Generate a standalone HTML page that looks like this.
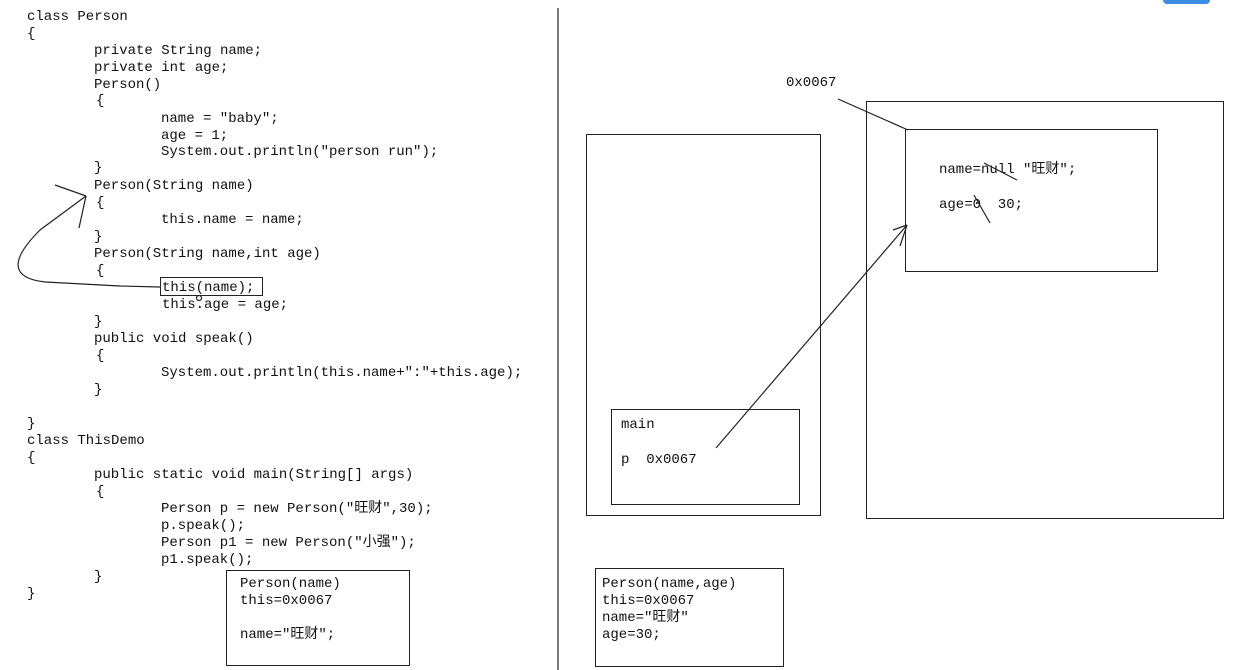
<!DOCTYPE html>
<html><head><meta charset="utf-8"><style>
body{margin:0;width:1249px;height:670px;background:#fff;position:relative;overflow:hidden;font-family:"Liberation Mono","Noto Sans CJK SC",monospace;font-size:14px;color:#111}
.t{position:absolute;white-space:pre;line-height:16px}
.b{position:absolute;border:1px solid #222;box-sizing:border-box}
svg{position:absolute;left:0;top:0}
</style></head><body>
<div class="t" style="left:27px;top:9px">class Person</div>
<div class="t" style="left:27px;top:26px">{</div>
<div class="t" style="left:94px;top:43px">private String name;</div>
<div class="t" style="left:94px;top:60px">private int age;</div>
<div class="t" style="left:94px;top:77px">Person()</div>
<div class="t" style="left:96px;top:93px">{</div>
<div class="t" style="left:161px;top:111px">name = "baby";</div>
<div class="t" style="left:161px;top:128px">age = 1;</div>
<div class="t" style="left:161px;top:144px">System.out.println("person run");</div>
<div class="t" style="left:94px;top:160px">}</div>
<div class="t" style="left:94px;top:178px">Person(String name)</div>
<div class="t" style="left:96px;top:195px">{</div>
<div class="t" style="left:161px;top:212px">this.name = name;</div>
<div class="t" style="left:94px;top:229px">}</div>
<div class="t" style="left:94px;top:246px">Person(String name,int age)</div>
<div class="t" style="left:96px;top:263px">{</div>
<div class="t" style="left:162px;top:280px">this(name);</div>
<div class="b" style="left:160px;top:277px;width:103px;height:19px"></div>
<div class="t" style="left:162px;top:297px">this.age = age;</div>
<div class="t" style="left:94px;top:314px">}</div>
<div class="t" style="left:94px;top:331px">public void speak()</div>
<div class="t" style="left:96px;top:348px">{</div>
<div class="t" style="left:161px;top:365px">System.out.println(this.name+":"+this.age);</div>
<div class="t" style="left:94px;top:382px">}</div>
<div class="t" style="left:27px;top:416px">}</div>
<div class="t" style="left:27px;top:433px">class ThisDemo</div>
<div class="t" style="left:27px;top:450px">{</div>
<div class="t" style="left:94px;top:467px">public static void main(String[] args)</div>
<div class="t" style="left:96px;top:484px">{</div>
<div class="t" style="left:161px;top:501px">Person p = new Person("旺财",30);</div>
<div class="t" style="left:161px;top:518px">p.speak();</div>
<div class="t" style="left:161px;top:535px">Person p1 = new Person("小强");</div>
<div class="t" style="left:161px;top:552px">p1.speak();</div>
<div class="t" style="left:94px;top:569px">}</div>
<div class="t" style="left:27px;top:586px">}</div>

<div class="b" style="left:226px;top:570px;width:184px;height:96px"></div>
<div class="t" style="left:240px;top:576px">Person(name)</div>
<div class="t" style="left:240px;top:593px">this=0x0067</div>
<div class="t" style="left:240px;top:627px">name="旺财";</div>

<div class="b" style="left:595px;top:568px;width:189px;height:99px"></div>
<div class="t" style="left:602px;top:576px">Person(name,age)</div>
<div class="t" style="left:602px;top:593px">this=0x0067</div>
<div class="t" style="left:602px;top:610px">name="旺财"</div>
<div class="t" style="left:602px;top:627px">age=30;</div>

<div class="b" style="left:586px;top:134px;width:235px;height:382px"></div>
<div class="b" style="left:611px;top:409px;width:189px;height:96px"></div>
<div class="t" style="left:621px;top:417px">main</div>
<div class="t" style="left:621px;top:452px">p  0x0067</div>

<div class="b" style="left:866px;top:101px;width:358px;height:418px"></div>
<div class="b" style="left:905px;top:129px;width:253px;height:143px"></div>
<div class="t" style="left:786px;top:75px">0x0067</div>
<div class="t" style="left:939px;top:162px">name=null "旺财";</div>
<div class="t" style="left:939px;top:197px">age=0  30;</div>

<div style="position:absolute;left:1163px;top:0;width:47px;height:4px;background:#3a8ee6;border-radius:0 0 4px 4px"></div>
<svg width="1249" height="670" fill="none" stroke="#222" stroke-width="1.2">
<line x1="558" y1="8" x2="558" y2="670"/>
<line x1="838" y1="99" x2="908" y2="130"/>
<line x1="984" y1="163" x2="1017" y2="180"/>
<line x1="974" y1="195" x2="990" y2="223"/>
<line x1="716" y1="448" x2="907" y2="225"/>
<line x1="907" y1="225" x2="893" y2="230"/>
<line x1="907" y1="225" x2="900" y2="246"/>
<path d="M160 287 L120 286 L45 282 C10 278 10 260 40 230 L86 196"/>
<line x1="86" y1="196" x2="55" y2="185"/>
<line x1="86" y1="196" x2="79" y2="228"/>
<circle cx="199" cy="298" r="2.5"/>
</svg>
</body></html>
